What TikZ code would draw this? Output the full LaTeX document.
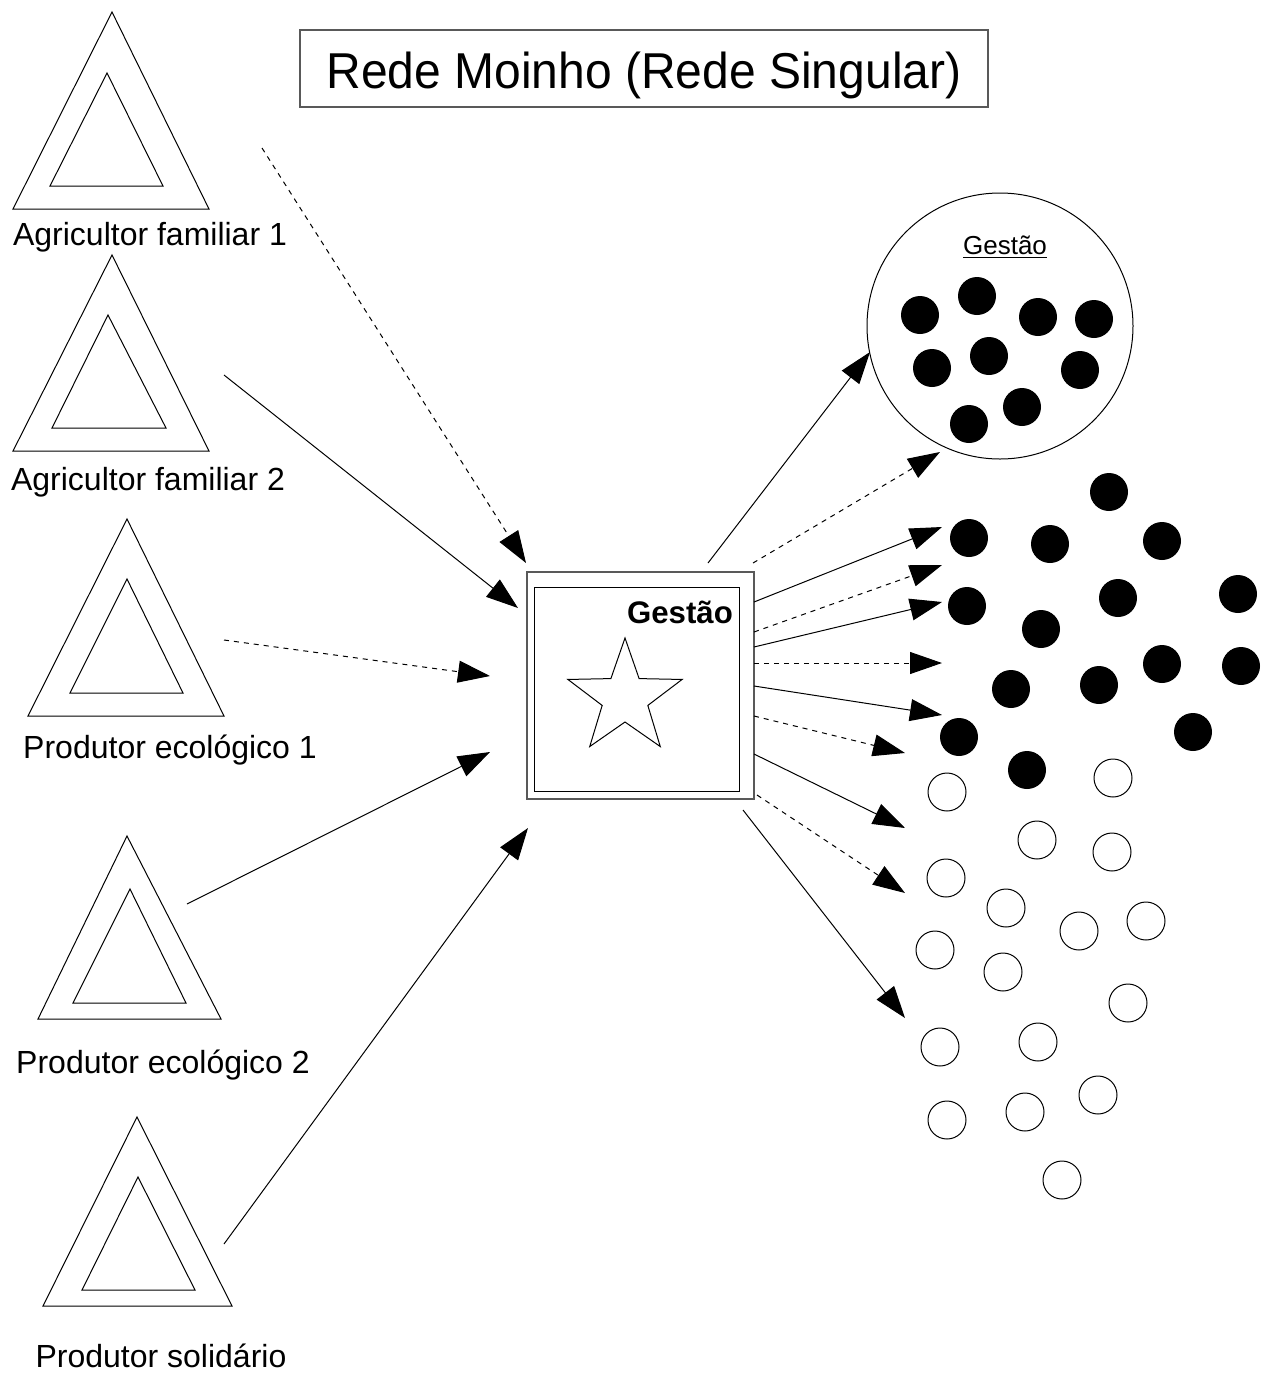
\documentclass[tikz,border=0pt]{standalone}
\usepackage{fontspec}
\setmainfont{Liberation Sans}
\usetikzlibrary{arrows.meta,shapes.geometric}
\tikzset{
  line/.style={line width=0.5pt},
  arr/.style={line width=0.5pt,-{Triangle[length=16pt,width=11pt]}},
  dsh/.style={dash pattern=on 2.5pt off 2.5pt},
  dotf/.style={circle,fill=black,draw=none,minimum size=19pt,inner sep=0pt},
  doto/.style={circle,draw=black,line width=0.5pt,fill=white,minimum size=19pt,inner sep=0pt},
  lbl/.style={anchor=base,inner sep=0pt,font=\fontsize{16}{19}\selectfont},
}
\begin{document}
\begin{tikzpicture}[x=0.5pt,y=-0.5pt]
\useasboundingbox (0,0) rectangle (1270,1382);
\fill[white] (0,0) rectangle (1270,1382);

% title
\draw[black!65,line width=0.8pt] (300,30) rectangle (988,107);
\node[anchor=base,inner sep=0pt,font=\fontsize{24}{28}\selectfont,yscale=1.05] (title) at (644,88) {Rede Moinho (Rede Singular)};

% triangles (outer, inner)
\draw[line] (112,12) -- (209,209) -- (13,209) -- cycle;
\draw[line] (107,73) -- (163,186) -- (50,186) -- cycle;
\draw[line] (112,255) -- (209,451) -- (13,451) -- cycle;
\draw[line] (108,315) -- (166,428) -- (52,428) -- cycle;
\draw[line] (127,519) -- (224,716) -- (28,716) -- cycle;
\draw[line] (127,579) -- (183,693) -- (70,693) -- cycle;
\draw[line] (127,836) -- (221,1019) -- (38,1019) -- cycle;
\draw[line] (130,889) -- (186,1003) -- (73,1003) -- cycle;
\draw[line] (137,1117) -- (232,1306) -- (43,1306) -- cycle;
\draw[line] (138,1177) -- (195,1290) -- (82,1290) -- cycle;

\node[lbl] (l1) at (150,245) {Agricultor familiar 1};
\node[lbl] (l2) at (148,490) {Agricultor familiar 2};
\node[lbl] (l3) at (170,758) {Produtor ecológico 1};
\node[lbl] (l4) at (163,1073) {Produtor ecológico 2};
\node[lbl] (l5) at (161,1367) {Produtor solidário};

% central box
\draw[black!65,line width=0.8pt] (527,572) rectangle (754,799);
\draw[line] (534,587) rectangle (739,791);
\node[anchor=base,inner sep=0pt,font=\fontsize{15.6}{18}\selectfont\bfseries] (gb) at (680,623) {Gestão};
\node[star,star points=5,star point ratio=2.5,draw,line width=0.5pt,minimum size=60pt,inner sep=0pt] (star) at (625,698) {};

% big circle
\node[circle,draw,line width=0.5pt,minimum size=133pt,inner sep=0pt] (big) at (1000,326) {};
\node[anchor=base,inner sep=0pt,font=\fontsize{13}{16}\selectfont] (gc) at (1005,254) {\underline{Gestão}};
\foreach \x/\y [count=\i] in {920/315,977/296,1038/317,1094/319,932/368,989/356,1080/370,1022/407,969/424}
  \node[dotf] (c\i) at (\x,\y) {};

% black dots outside
\foreach \x/\y [count=\i] in {1109/492,969/538,1050/544,1162/541,967/606,1118/598,1238/594,1041/629,1011/689,1099/685,1162/664,1241/666,1193/732,959/737,1027/770}
  \node[dotf] (b\i) at (\x,\y) {};

% open circles
\foreach \x/\y [count=\i] in {947/792,1113/778,1037/840,1112/852,946/878,1006/908,1079/931,1146/921,935/950,1003/972,1128/1003,940/1047,1038/1042,947/1120,1025/1112,1098/1095,1062/1180}
  \node[doto] (o\i) at (\x,\y) {};

% arrow end points
\coordinate (s1) at (262,148);  \coordinate (e1) at (526,563);
\coordinate (s2) at (224,375);  \coordinate (e2) at (518,608);
\coordinate (s3) at (224,640);  \coordinate (e3) at (490,676);
\coordinate (s4) at (187,904);  \coordinate (e4) at (490,752);
\coordinate (s5) at (224,1244); \coordinate (e5) at (528,828);

\draw[arr,dsh] (s1) -- (e1);
\draw[arr] (s2) -- (e2);
\draw[arr,dsh] (s3) -- (e3);
\draw[arr] (s4) -- (e4);
\draw[arr] (s5) -- (e5);

\coordinate (ta) at (708,563);  \coordinate (ua) at (870,352);
\coordinate (tb) at (753,563);  \coordinate (ub) at (940,452);
\coordinate (tc) at (754,602);  \coordinate (uc) at (942,527);
\coordinate (td) at (754,632);  \coordinate (ud) at (942,565);
\coordinate (te) at (754,647);  \coordinate (ue) at (942,602);
\coordinate (tf) at (754,663);  \coordinate (uf) at (942,663);
\coordinate (tg) at (754,686);  \coordinate (ug) at (942,715);
\coordinate (th) at (754,716);  \coordinate (uh) at (905,753);
\coordinate (ti) at (754,754);  \coordinate (ui) at (905,828);
\coordinate (tj) at (757,795);  \coordinate (uj) at (905,893);
\coordinate (tk) at (743,810);  \coordinate (uk) at (905,1018);

\draw[arr] (ta) -- (ua);
\draw[arr,dsh] (tb) -- (ub);
\draw[arr] (tc) -- (uc);
\draw[arr,dsh] (td) -- (ud);
\draw[arr] (te) -- (ue);
\draw[arr,dsh] (tf) -- (uf);
\draw[arr] (tg) -- (ug);
\draw[arr,dsh] (th) -- (uh);
\draw[arr] (ti) -- (ui);
\draw[arr,dsh] (tj) -- (uj);
\draw[arr] (tk) -- (uk);
\end{tikzpicture}
\end{document}
